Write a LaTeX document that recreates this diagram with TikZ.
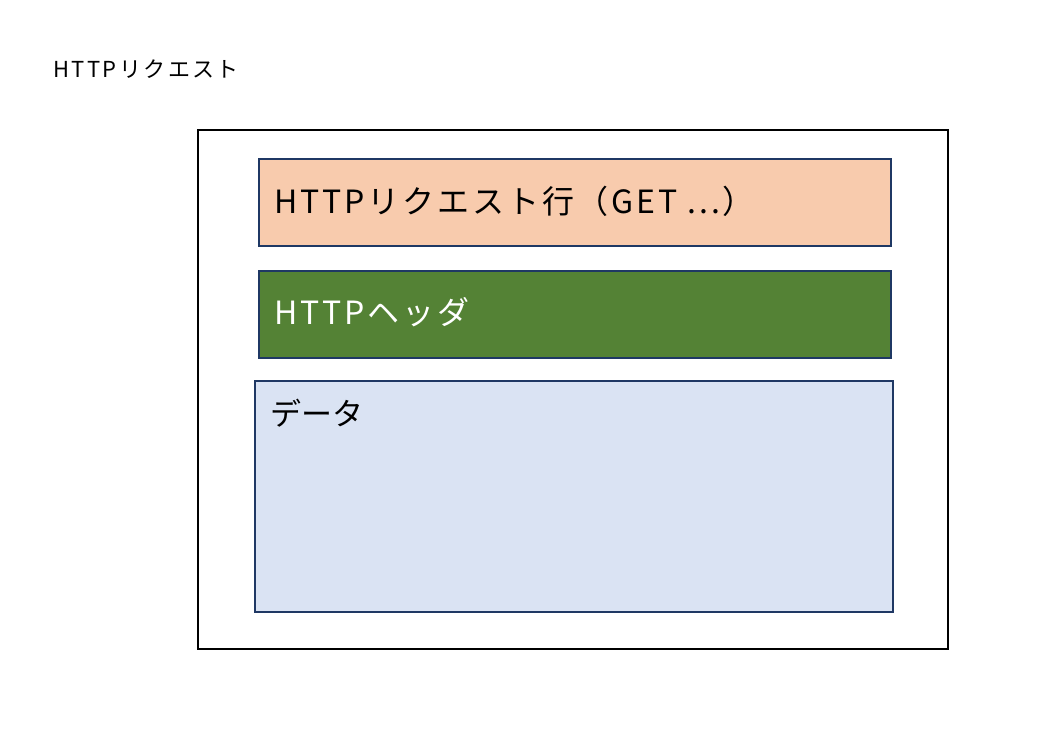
\documentclass[tikz,border=0pt]{standalone}
\usepackage{fontspec}
\setmainfont{Noto Sans CJK JP}
\newfontfamily\widejp[LetterSpace=9]{Noto Sans CJK JP}
\newfontfamily\titlejp[LetterSpace=11]{Noto Sans CJK JP}
\definecolor{peach}{HTML}{F8CBAD}
\definecolor{hgreen}{HTML}{548235}
\definecolor{lblue}{HTML}{DAE3F3}
\definecolor{navy}{HTML}{1F3864}
\begin{document}
\begin{tikzpicture}[x=1pt,y=-1pt,
  inner/.style={draw=navy,line width=1.5pt},
  lbl/.style={anchor=base west,inner sep=0pt}]
\useasboundingbox (0,0) rectangle (1059,732);
\node[lbl,font=\titlejp\fontsize{22}{26}\selectfont] (title) at (53,77) {HTTPリクエスト};
\draw[line width=2pt] (198,130) rectangle (948,649);
\draw[inner,fill=peach] (259,159) rectangle (891,246);
\node[lbl,font=\widejp\fontsize{32}{36}\selectfont] (line) at (274,213) {HTTPリクエスト行（GET ...）};
\draw[inner,fill=hgreen] (259,271) rectangle (891,358);
\node[lbl,font=\widejp\fontsize{32}{36}\selectfont,text=white] (hdr) at (274,324) {HTTPヘッダ};
\draw[inner,fill=lblue] (255,381) rectangle (893,612);
\node[lbl,font=\fontsize{31}{35}\selectfont] (data) at (270,425) {データ};
\end{tikzpicture}
\end{document}
